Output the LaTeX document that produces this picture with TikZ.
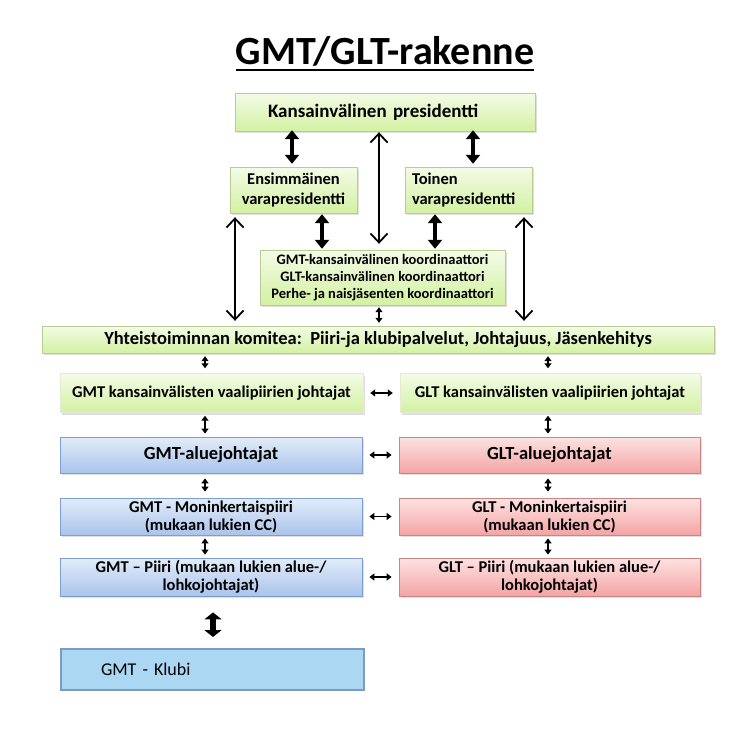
\documentclass[tikz,border=0pt]{standalone}
\usepackage{fontspec}
\setmainfont{Carlito}
\usetikzlibrary{arrows.meta,calc,positioning,shadows}
\definecolor{GrnTop}{HTML}{F3FBE6}
\definecolor{GrnBot}{HTML}{D3F1A2}
\definecolor{GrnLine}{HTML}{B9CC95}
\definecolor{BluTop}{HTML}{E2ECF9}
\definecolor{BluBot}{HTML}{AAC4EB}
\definecolor{BluLine}{HTML}{7E9ECF}
\definecolor{RedTop}{HTML}{FDE2E2}
\definecolor{RedBot}{HTML}{F4A4A4}
\definecolor{RedLine}{HTML}{C98585}
\definecolor{KlubFill}{HTML}{ABD7F2}
\definecolor{KlubLine}{HTML}{7C9BC1}
\tikzset{
  box/.style={inner sep=2pt, align=center, font=\bfseries,
    drop shadow={shadow xshift=1.5pt, shadow yshift=-2pt, fill=black!25}},
  grnbox/.style={box, draw=GrnLine, top color=GrnTop, bottom color=GrnBot},
  grnsoft/.style={box, draw=GrnLine!40, top color=GrnTop, bottom color=GrnBot},
  blubox/.style={box, draw=BluLine, line width=0.8pt, top color=BluTop, bottom color=BluBot},
  redbox/.style={box, draw=RedLine, line width=0.8pt, top color=RedTop, bottom color=RedBot},
  bigarrow/.style={line width=3.5pt, {Triangle[width=14pt,length=9pt]}-{Triangle[width=14pt,length=9pt]}},
  openarrow/.style={line width=1.8pt, {Straight Barb[width=17pt,length=9pt]}-{Straight Barb[width=17pt,length=9pt]}},
  smallarrow/.style={line width=1.4pt, {Triangle[width=7pt,length=5pt]}-{Triangle[width=7pt,length=5pt]}},
}
\begin{document}
\begin{tikzpicture}[x=1pt,y=-1pt]
  \useasboundingbox (0,0) rectangle (734,731);
  % title
  \node[anchor=base, font=\fontsize{40}{44}\selectfont\bfseries, inner sep=0pt] (title) at (385,64) {GMT/GLT-rakenne};
  \draw[line width=2.6pt] ([yshift=-6pt]title.base west) -- ([yshift=-6pt]title.base east);
  % top level
  \node[grnbox, minimum width=300pt, minimum height=38pt, text width=234pt, align=left, font=\fontsize{19}{22}\selectfont\bfseries] (pres) at (385,112) {Kansainvälinen presidentti};
  \node[grnbox, minimum width=127pt, minimum height=46pt, font=\fontsize{16.5}{20}\selectfont\bfseries] (ens) at (293.5,190) {Ensimmäinen\\varapresidentti};
  \node[grnbox, minimum width=127pt, minimum height=46pt, text width=113pt, align=left, font=\fontsize{16.5}{20}\selectfont\bfseries] (toi) at (468.5,190) {Toinen\\varapresidentti};
  \node[grnbox, minimum width=245pt, minimum height=55pt, font=\fontsize{14.5}{17}\selectfont\bfseries] (coord) at (382.5,277.5)
    {GMT-kansainvälinen koordinaattori\\GLT-kansainvälinen koordinaattori\\Perhe- ja naisjäsenten koordinaattori};
  \node[grnbox, minimum width=672pt, minimum height=27pt, font=\fontsize{18.5}{20}\selectfont\bfseries] (yht) at (378,339.5)
    {Yhteistoiminnan komitea:\ \ Piiri-ja klubipalvelut, Johtajuus, Jäsenkehitys};
  % two columns
  \node[grnsoft, minimum width=303pt, minimum height=39pt, font=\fontsize{16.5}{19}\selectfont\bfseries] (gmtk) at (211.5,393) {GMT kansainvälisten vaalipiirien johtajat};
  \node[grnsoft, minimum width=300pt, minimum height=39pt, font=\fontsize{16.5}{19}\selectfont\bfseries] (gltk) at (550,393) {GLT kansainvälisten vaalipiirien johtajat};
  \node[blubox, minimum width=302pt, minimum height=36pt, font=\fontsize{18.5}{21}\selectfont\bfseries] (gmta) at (211,455) {GMT-aluejohtajat};
  \node[redbox, minimum width=301pt, minimum height=36pt, font=\fontsize{18.5}{21}\selectfont\bfseries] (glta) at (549.5,455) {GLT-aluejohtajat};
  \node[blubox, minimum width=302pt, minimum height=37pt, font=\fontsize{16.5}{18}\selectfont\bfseries] (gmtm) at (211,516.5) {GMT - Moninkertaispiiri\\(mukaan lukien CC)};
  \node[redbox, minimum width=301pt, minimum height=37pt, font=\fontsize{16.5}{18}\selectfont\bfseries] (gltm) at (549.5,516.5) {GLT - Moninkertaispiiri\\(mukaan lukien CC)};
  \node[blubox, minimum width=302pt, minimum height=38pt, font=\fontsize{16.5}{18}\selectfont\bfseries] (gmtp) at (211,577) {GMT – Piiri (mukaan lukien alue-/\\lohkojohtajat)};
  \node[redbox, minimum width=301pt, minimum height=38pt, font=\fontsize{16.5}{18}\selectfont\bfseries] (gltp) at (549.5,577) {GLT – Piiri (mukaan lukien alue-/\\lohkojohtajat)};
  \node[draw=KlubLine, line width=2pt, fill=KlubFill, minimum width=303pt, minimum height=41pt, text width=223pt, align=left, font=\fontsize{18}{21}\selectfont] (klubi) at (212.5,669.5) {GMT - Klubi};
  % column positions of the connectors
  \coordinate (xa) at (292,0);
  \coordinate (xb) at (379,0);
  \coordinate (xc) at (473,0);
  \coordinate (xd) at (322,0);
  \coordinate (xe) at (435,0);
  \coordinate (xf) at (235,0);
  \coordinate (xg) at (524,0);
  \coordinate (xl) at (205,0);
  \coordinate (xr) at (548,0);
  \coordinate (xk) at (213,0);
  % connectors in the top part
  \draw[bigarrow, shorten <=-1pt, shorten >=3pt] (pres.south -| xa) -- (ens.north -| xa);
  \draw[bigarrow, shorten <=-1pt, shorten >=3pt] (pres.south -| xc) -- (toi.north -| xc);
  \draw[bigarrow, shorten <=1pt, shorten >=1pt] (ens.south -| xd) -- (coord.north -| xd);
  \draw[bigarrow, shorten <=1pt, shorten >=1pt] (toi.south -| xe) -- (coord.north -| xe);
  \draw[openarrow, shorten <=1pt, shorten >=6pt] (pres.south -| xb) -- (coord.north -| xb);
  \draw[openarrow, shorten <=4pt, shorten >=5pt] (ens.south -| xf) -- (yht.north -| xf);
  \draw[openarrow, shorten <=4pt, shorten >=5pt] (toi.south -| xg) -- (yht.north -| xg);
  \draw[smallarrow, shorten <=2pt, shorten >=3pt] (coord.south -| xb) -- (yht.north -| xb);
  % connectors in the columns
  \draw[smallarrow, shorten <=3pt, shorten >=5pt] (yht.south -| xl) -- (gmtk.north -| xl);
  \draw[smallarrow, shorten <=3pt, shorten >=5pt] (yht.south -| xr) -- (gltk.north -| xr);
  \draw[smallarrow, shorten <=3pt, shorten >=3pt] (gmtk.south -| xl) -- (gmta.north -| xl);
  \draw[smallarrow, shorten <=3pt, shorten >=3pt] (gltk.south -| xr) -- (glta.north -| xr);
  \draw[smallarrow, shorten <=5pt, shorten >=6pt] (gmta.south -| xl) -- (gmtm.north -| xl);
  \draw[smallarrow, shorten <=5pt, shorten >=6pt] (glta.south -| xr) -- (gltm.north -| xr);
  \draw[smallarrow, shorten <=3pt, shorten >=3pt] (gmtm.south -| xl) -- (gmtp.north -| xl);
  \draw[smallarrow, shorten <=3pt, shorten >=3pt] (gltm.south -| xr) -- (gltp.north -| xr);
  \draw[smallarrow, shorten <=7pt, shorten >=7pt] (gmtk) -- (gltk);
  \draw[smallarrow, shorten <=7pt, shorten >=7pt] (gmta) -- (glta);
  \draw[smallarrow, shorten <=7pt, shorten >=7pt] (gmtm) -- (gltm);
  \draw[smallarrow, shorten <=7pt, shorten >=7pt] (gmtp) -- (gltp);
  % club
  \draw[line width=6pt, {Triangle[width=17pt,length=7pt]}-{Triangle[width=17pt,length=7pt]}, shorten <=16pt, shorten >=11pt] (gmtp.south -| xk) -- (klubi.north -| xk);
\end{tikzpicture}
\end{document}
